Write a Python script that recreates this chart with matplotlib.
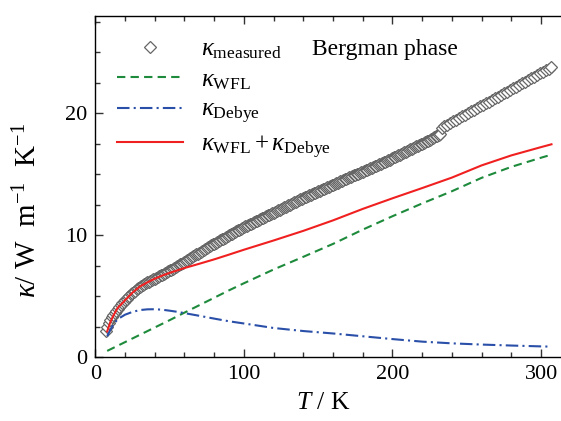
import numpy as np
import matplotlib
matplotlib.use("Agg")
import matplotlib.pyplot as plt
from matplotlib.ticker import MultipleLocator

plt.rcParams['font.family'] = ['Liberation Serif', 'DejaVu Serif']
plt.rcParams['mathtext.fontset'] = 'custom'
plt.rcParams['mathtext.rm'] = 'Liberation Serif'
plt.rcParams['mathtext.it'] = 'Liberation Serif:italic'
plt.rcParams['mathtext.bf'] = 'Liberation Serif:bold'

# measured thermal conductivity: 1 K steps from 7 to 232 K, 2 K steps above
T_measured = np.concatenate([np.arange(7, 233, 1), np.arange(233, 308, 2)])
k_measured = [
    2.15, 2.46, 2.75, 3.01, 3.25, 3.45, 3.62, 3.79, 3.95, 4.10,   # 7-16
    4.25, 4.39, 4.52, 4.65, 4.78, 4.90, 5.02, 5.14, 5.25, 5.35,   # 17-26
    5.45, 5.55, 5.65, 5.74, 5.82, 5.90, 5.98, 6.05, 6.12, 6.19,   # 27-36
    6.25, 6.32, 6.38, 6.44, 6.50, 6.57, 6.63, 6.70, 6.76, 6.83,   # 37-46
    6.90, 6.97, 7.03, 7.10, 7.17, 7.24, 7.31, 7.38, 7.45, 7.52,   # 47-56
    7.59, 7.66, 7.73, 7.81, 7.88, 7.96, 8.03, 8.11, 8.18, 8.26,   # 57-66
    8.33, 8.41, 8.48, 8.56, 8.63, 8.71, 8.78, 8.86, 8.93, 9.01,   # 67-76
    9.08, 9.16, 9.23, 9.30, 9.37, 9.44, 9.51, 9.58, 9.65, 9.72,   # 77-86
    9.79, 9.86, 9.93, 10.00, 10.06, 10.13, 10.19, 10.26, 10.32, 10.39,  # 87-96
    10.45, 10.52, 10.58, 10.65, 10.71, 10.77, 10.83, 10.89, 10.95, 11.01,  # 97-106
    11.07, 11.13, 11.19, 11.25, 11.31, 11.37, 11.43, 11.49, 11.55, 11.61,  # 107-116
    11.67, 11.73, 11.79, 11.85, 11.91, 11.97, 12.03, 12.09, 12.15, 12.21,  # 117-126
    12.27, 12.33, 12.39, 12.45, 12.51, 12.57, 12.63, 12.69, 12.75, 12.81,  # 127-136
    12.87, 12.93, 12.99, 13.04, 13.10, 13.15, 13.21, 13.26, 13.32, 13.37,  # 137-146
    13.43, 13.48, 13.54, 13.59, 13.65, 13.70, 13.76, 13.81, 13.87, 13.92,  # 147-156
    13.98, 14.03, 14.09, 14.14, 14.20, 14.25, 14.31, 14.36, 14.42, 14.47,  # 157-166
    14.53, 14.58, 14.64, 14.69, 14.75, 14.80, 14.85, 14.90, 14.95, 15.00,  # 167-176
    15.05, 15.10, 15.15, 15.20, 15.26, 15.31, 15.37, 15.42, 15.48, 15.53,  # 177-186
    15.59, 15.64, 15.70, 15.75, 15.81, 15.86, 15.92, 15.97, 16.03, 16.08,  # 187-196
    16.14, 16.19, 16.25, 16.31, 16.37, 16.43, 16.49, 16.55, 16.61, 16.67,  # 197-206
    16.73, 16.79, 16.85, 16.91, 16.97, 17.03, 17.09, 17.15, 17.21, 17.27,  # 207-216
    17.33, 17.39, 17.45, 17.51, 17.57, 17.63, 17.70, 17.76, 17.83, 17.89,  # 217-226
    17.96, 18.02, 18.09, 18.15, 18.22, 18.28,                            # 227-232
    18.80, 18.94, 19.07, 19.21, 19.34, 19.48, 19.61, 19.75, 19.88, 20.02,  # 233-251
    20.15, 20.29, 20.42, 20.56, 20.69, 20.83, 20.96, 21.10, 21.23, 21.37,  # 253-271
    21.50, 21.64, 21.77, 21.91, 22.04, 22.18, 22.31, 22.45, 22.58, 22.72,  # 273-291
    22.85, 22.99, 23.12, 23.26, 23.39, 23.53, 23.66, 23.82,              # 293-307
]

T_model = [8, 10, 12, 15, 20, 25, 30, 35, 40, 45, 50, 55, 60, 70, 80, 90, 100,
           120, 140, 160, 180, 200, 220, 240, 260, 280, 300, 307]
k_wfl = [0.50, 0.62, 0.74, 0.92, 1.22, 1.52, 1.82, 2.12, 2.42, 2.72, 3.02, 3.33,
         3.64, 4.25, 4.86, 5.47, 6.05, 7.18, 8.22, 9.28, 10.45, 11.55, 12.60,
         13.60, 14.70, 15.60, 16.35, 16.60]
k_debye = [1.70, 2.20, 2.62, 3.10, 3.47, 3.70, 3.85, 3.91, 3.92, 3.88, 3.80, 3.71,
           3.60, 3.38, 3.15, 2.93, 2.75, 2.38, 2.13, 1.93, 1.70, 1.47, 1.26,
           1.12, 1.02, 0.94, 0.87, 0.85]
k_sum = [2.10, 2.82, 3.36, 4.02, 4.65, 5.28, 5.78, 6.12, 6.42, 6.68, 6.90, 7.10,
         7.30, 7.65, 8.01, 8.40, 8.80, 9.56, 10.35, 11.21, 12.15, 13.02, 13.86,
         14.72, 15.72, 16.54, 17.22, 17.45]

W, H = 561, 421
fig = plt.figure(figsize=(W / 100, H / 100), dpi=100)
ax = fig.add_axes([95.3 / W, (H - 357) / H, 475.5 / W, 341.3 / H])

ax.plot(T_measured, k_measured, linestyle='none', marker='D', ms=6.5,
        mfc='white', mec='#666666', mew=0.9,
        label=r'$\kappa_{\mathrm{measured}}$', zorder=2)
ax.plot(T_model, k_wfl, color='#1e8a3c', lw=1.5, dashes=(4, 2.5),
        label=r'$\kappa_{\mathrm{WFL}}$', zorder=3)
ax.plot(T_model, k_debye, color='#2a4fa8', lw=1.5, dashes=(6, 2, 1, 2),
        label=r'$\kappa_{\mathrm{Debye}}$', zorder=3)
ax.plot(T_model, k_sum, color='#f02020', lw=1.5,
        label=r'$\kappa_{\mathrm{WFL}}+\kappa_{\mathrm{Debye}}$', zorder=4)

ax.set_xlim(0, 320)
ax.set_ylim(0, 28)
ax.xaxis.set_major_locator(MultipleLocator(100))
ax.xaxis.set_minor_locator(MultipleLocator(20))
ax.yaxis.set_major_locator(MultipleLocator(10))
ax.yaxis.set_minor_locator(MultipleLocator(2.5))
ax.tick_params(which='both', direction='in', top=True, right=True,
               labelsize=16, color='#333333', width=1.0)
ax.tick_params(which='major', length=6, pad=6)
ax.tick_params(which='minor', length=3.5)
for s in ax.spines.values():
    s.set_linewidth(1.0)

ax.set_xlabel(r'$T$ / K', fontsize=18.5)
ax.xaxis.set_label_coords(0.479, -0.103)
ax.set_ylabel(r'$\kappa$/ W  m$^{-1}$  K$^{-1}$', fontsize=21)
ax.yaxis.set_label_coords(-0.112, 0.43)

ax.legend(loc='upper left', bbox_to_anchor=(0.046, 0.935), frameon=False,
          borderpad=0, borderaxespad=0,
          fontsize=18, handlelength=2.65, handletextpad=0.7, labelspacing=0.3,
          numpoints=1)
ax.text(0.456, 0.90, 'Bergman phase', transform=ax.transAxes, fontsize=17,
        ha='left', va='center')

fig.savefig('out.png', dpi=100)
